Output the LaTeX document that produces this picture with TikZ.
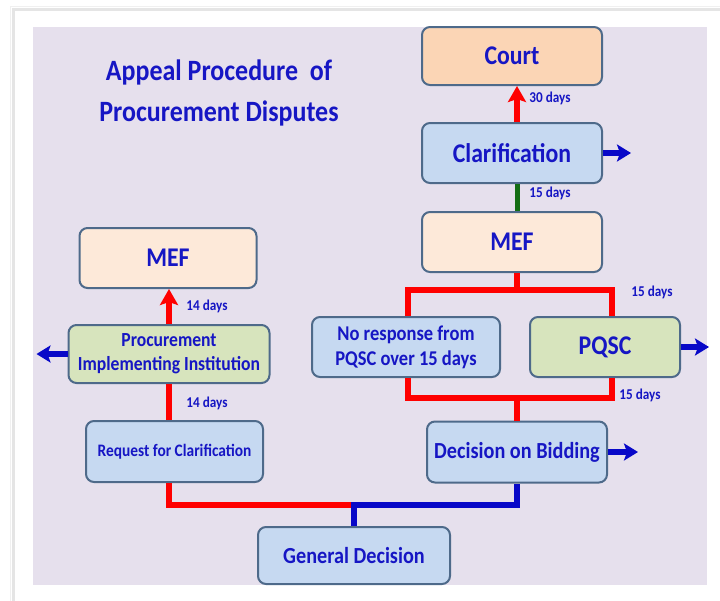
\documentclass[tikz,border=0pt]{standalone}
\usepackage{fontspec}
\setmainfont{Carlito}[FakeStretch=0.88]
\usetikzlibrary{arrows.meta}
\definecolor{panel}{RGB}{230,224,237}
\definecolor{txtblue}{RGB}{22,22,196}
\definecolor{edge}{RGB}{78,106,138}
\definecolor{courtfill}{RGB}{251,213,181}
\definecolor{meffill}{RGB}{253,233,217}
\definecolor{bluefill}{RGB}{198,217,241}
\definecolor{greenfill}{RGB}{215,228,189}
\definecolor{redl}{RGB}{255,0,0}
\definecolor{bluel}{RGB}{8,8,200}
\definecolor{greenl}{RGB}{20,110,20}
\tikzset{
  box/.style={draw=edge, line width=2pt, rounded corners=8pt, align=center,
    text=txtblue, font=\bfseries, inner sep=2pt},
  lbl/.style={text=txtblue, font=\bfseries\fontsize{15}{17}\selectfont, inner sep=0pt},
  redline/.style={draw=redl, line width=6pt},
  blueline/.style={draw=bluel, line width=6pt},
  redarrow/.style={draw=redl, line width=5.5pt, -{Stealth[length=16pt,width=18pt,inset=3pt]}},
  bluearrow/.style={draw=bluel, line width=6pt, -{Stealth[length=14pt,width=17pt,inset=3pt]}}
}
\begin{document}
\begin{tikzpicture}[x=1pt,y=-1pt]
\useasboundingbox (0,0) rectangle (720,600);
\fill[white] (0,0) rectangle (720,600);
% card shadow
\draw[line width=3pt, black!10] (13,610) -- (13,9) -- (730,9);
\draw[line width=1pt, black!6] (10,610) -- (10,6) -- (730,6);
% panel
\fill[panel] (33,27) rectangle (707,585);

% title
\node[text=txtblue, font=\bfseries\fontsize{29.5}{41}\selectfont, align=center, inner sep=0pt] (title) at (219,93)
  {Appeal Procedure\ \ of\\Procurement Disputes};

% right column
\node[box, fill=courtfill, minimum width=180pt, minimum height=58pt, font=\bfseries\fontsize{27}{30}\selectfont] (court) at (512,56) {Court};
\node[box, fill=bluefill, minimum width=180pt, minimum height=60pt, font=\bfseries\fontsize{27}{30}\selectfont] (clar) at (512,153) {Clarification};
\node[box, fill=meffill, minimum width=180pt, minimum height=60pt, font=\bfseries\fontsize{27}{30}\selectfont] (mef2) at (512,242) {MEF};
\node[box, fill=bluefill, minimum width=188pt, minimum height=60pt, font=\bfseries\fontsize{21}{25}\selectfont] (nores) at (406,347) {No response from\\PQSC over 15 days};
\node[box, fill=greenfill, minimum width=150pt, minimum height=60pt, font=\bfseries\fontsize{27}{30}\selectfont] (pqsc) at (605,347) {PQSC};
\node[box, fill=bluefill, minimum width=180pt, minimum height=61pt, font=\bfseries\fontsize{23}{26}\selectfont] (dob) at (517,452) {Decision on Bidding};
\node[box, fill=bluefill, minimum width=192pt, minimum height=57pt, font=\bfseries\fontsize{23}{26}\selectfont] (gen) at (354,555.5) {General Decision};

% left column
\node[box, fill=meffill, minimum width=177pt, minimum height=60pt, font=\bfseries\fontsize{27}{30}\selectfont] (mef1) at (168,258) {MEF};
\node[box, fill=greenfill, minimum width=201pt, minimum height=58pt, font=\bfseries\fontsize{20}{24}\selectfont] (pii) at (169,354) {Procurement\\Implementing Institution};
\node[box, fill=bluefill, minimum width=177pt, minimum height=61pt, font=\bfseries\fontsize{17.5}{20}\selectfont] (req) at (174.5,451.5) {Request for Clarification};

% coordinates
\coordinate (tl) at (408,290);
\coordinate (tr) at (612,290);
\coordinate (bl) at (408,398);
\coordinate (br) at (612,398);
\coordinate (jn) at (354,505);

% connectors right
\draw[redarrow] (clar.north -| 517,0) -- (court.south -| 517,0);
\draw[draw=greenl, line width=5pt] (mef2.north -| 517,0) -- (clar.south -| 517,0);
\draw[redline] (mef2.south -| 517,0) -- (tl -| 517,0);
\draw[redline] (tl |- nores.north) -- (tl) -- (tr) -- (tr |- pqsc.north);
\draw[redline] (bl |- nores.south) -- (bl) -- (br) -- (br |- pqsc.south);
\draw[redline] (bl -| dob.north) -- (dob.north);

% connectors left
\draw[redarrow] (pii.north) -- (mef1.south -| pii.north);
\draw[redline] (req.north -| pii.south) -- (pii.south);

% bottom
\draw[redline] (req.south -| pii.south) -- (jn -| pii.south) -- (jn);
\draw[blueline] ([xshift=-3pt]jn) -- (jn -| dob.south) -- (dob.south);
\draw[blueline] ([yshift=-3pt]jn) -- (gen.north);

% blue outgoing arrows
\draw[bluearrow] (clar.east) -- ++(28,0) coordinate (o1);
\draw[bluearrow] (pqsc.east) -- ++(28,0) coordinate (o2);
\draw[bluearrow] (dob.east) -- ++(30,0) coordinate (o3);
\draw[bluearrow] (pii.west) -- ++(-31,0) coordinate (o4);

% labels
\node[lbl] (l30) at (550,98) {30 days};
\node[lbl] (l15a) at (550,193) {15 days};
\node[lbl] (l15b) at (652,292) {15 days};
\node[lbl] (l15c) at (640,395) {15 days};
\node[lbl] (l14a) at (207,306) {14 days};
\node[lbl] (l14b) at (207,403) {14 days};
\end{tikzpicture}
\end{document}
